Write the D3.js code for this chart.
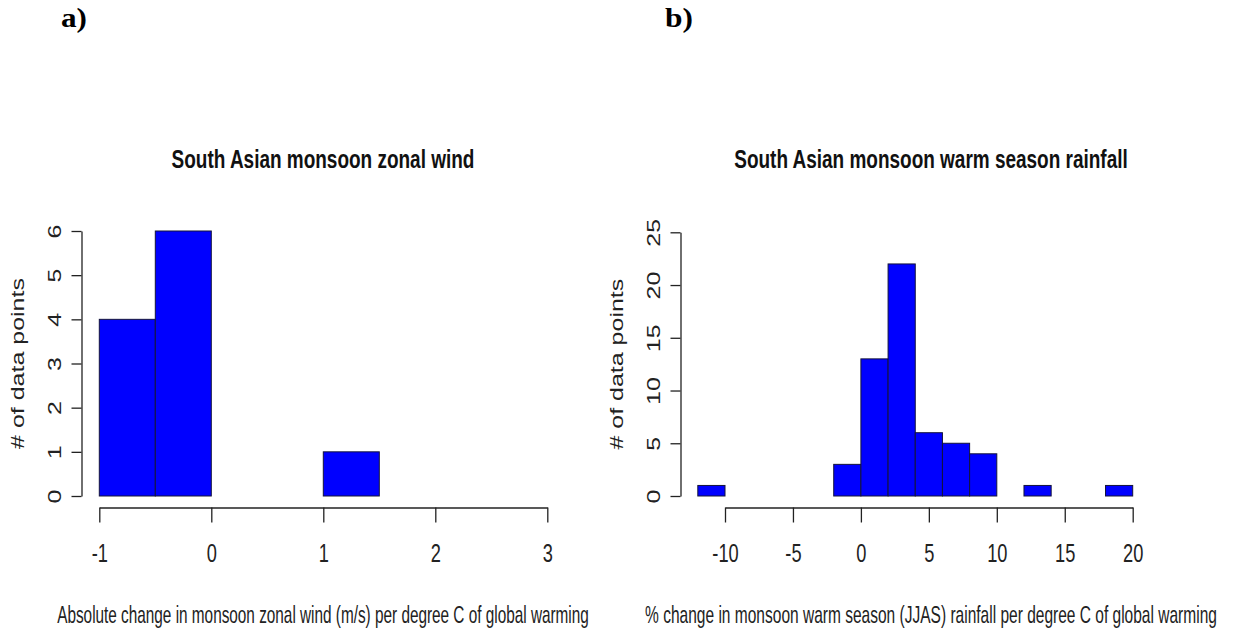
<!DOCTYPE html>
<html>
<head>
<meta charset="utf-8">
<script src="https://cdn.jsdelivr.net/npm/d3@7/dist/d3.min.js"></script>
<style>
  body { margin: 0; background: #fff; }
  svg { display: block; }
</style>
</head>
<body>
<svg></svg>
<script>

// a) zonal wind histogram
const windBreaks = [-1, -0.5, 0, 0.5, 1, 1.5];
const windCounts = [4, 6, 0, 0, 1];
const windTicksX = [-1, 0, 1, 2, 3];
const windTicksY = [0, 1, 2, 3, 4, 5, 6];

// b) warm season rainfall histogram
const rainBreaks = [-12, -10, -8, -6, -4, -2, 0, 2, 4, 6, 8, 10, 12, 14, 16, 18, 20];
const rainCounts = [1, 0, 0, 0, 0, 3, 13, 22, 6, 5, 4, 0, 1, 0, 0, 1];
const rainTicksX = [-10, -5, 0, 5, 10, 15, 20];
const rainTicksY = [0, 5, 10, 15, 20, 25];

const panelTags = ['a)', 'b)'];
const titles = ['South Asian monsoon zonal wind', 'South Asian monsoon warm season rainfall'];
const xLabels = ['Absolute change in monsoon zonal wind (m/s) per degree C of global warming',
                 '% change in monsoon warm season (JJAS) rainfall per degree C of global warming'];
const yLabel = '# of data points';

const W = 1233, H = 632;
const SQ = 0.73;   // text in the picture is squeezed sideways
const SANS = '"Liberation Sans", Arial, sans-serif';

const svg = d3.select('svg')
    .attr('width', W)
    .attr('height', H);

svg.append('rect').attr('width', W).attr('height', H).attr('fill', '#fff');

// squeeze a text so that it spans exactly w pixels
function fitWidth(sel, x, y, w) {
  const natural = sel.node().getComputedTextLength();
  sel.attr('transform', 'translate(' + x + ',' + y + ') scale(' + (w / natural) + ',1)');
}

//--------------PANELS-----------------------------------------
const panels = [
  {breaks: windBreaks, counts: windCounts, ticksX: windTicksX, ticksY: windTicksY,
   xDom: [-1, 3], xRange: [99.3, 547.3], yDom: [0, 6], yRange: [496, 231],
   axisX: 81.5, axisY: 507.5, center: 323, tagX: 61, tagW: 26, labW: 532,
   title: titles[0], xlab: xLabels[0], tag: panelTags[0]},
  {breaks: rainBreaks, counts: rainCounts, ticksX: rainTicksX, ticksY: rainTicksY,
   xDom: [-10, 20], xRange: [725, 1132.7], yDom: [0, 25], yRange: [496, 232.3],
   axisX: 680.5, axisY: 507.5, center: 931, tagX: 665, tagW: 28, labW: 572,
   title: titles[1], xlab: xLabels[1], tag: panelTags[1]}
];

panels.forEach(p => {
  const x = d3.scaleLinear().domain(p.xDom).range(p.xRange);
  const y = d3.scaleLinear().domain(p.yDom).range(p.yRange);
  const g = svg.append('g');

  // bars, empty bins become flat lines on the baseline
  const bins = p.counts.map((c, i) => ({x0: p.breaks[i], x1: p.breaks[i + 1], n: c}));
  g.append('g').selectAll('rect')
    .data(bins)
    .join('rect')
      .attr('x', d => x(d.x0))
      .attr('width', d => x(d.x1) - x(d.x0))
      .attr('y', d => y(d.n))
      .attr('height', d => y(0) - y(d.n))
      .attr('fill', '#0000ff')
      .attr('stroke', '#14143a')
      .attr('stroke-width', 1);

  //--------------AXES------------------------------------------
  const xx = d3.axisBottom(x).tickValues(p.ticksX).tickSize(15).tickSizeOuter(0)
               .tickFormat(d => String(d));
  const gx = g.append('g')
      .attr('transform', 'translate(0,' + p.axisY + ')')
      .call(xx);
  gx.selectAll('text')
      .attr('y', 54.5).attr('dy', null)
      .attr('transform', 'scale(' + SQ + ',1)');

  const yy = d3.axisLeft(y).tickValues(p.ticksY).tickSize(10).tickSizeOuter(0)
               .tickFormat(d => String(d));
  const gy = g.append('g')
      .attr('transform', 'translate(' + p.axisX + ',0)')
      .call(yy);
  gy.selectAll('text')
      .attr('x', 0).attr('y', 0).attr('dy', null)
      .attr('text-anchor', 'middle')
      .attr('transform', 'translate(-20.5,0) scale(' + SQ + ',1) rotate(-90)');

  g.selectAll('.domain, .tick line').attr('stroke', '#222').attr('stroke-width', 1.3);
  g.selectAll('.tick text')
      .attr('fill', '#222')
      .style('font-family', SANS)
      .style('font-size', '25px');

  //--------------TEXT------------------------------------------
  g.append('text')
      .attr('transform', 'translate(' + p.center + ',168) scale(' + SQ + ',1)')
      .attr('text-anchor', 'middle')
      .style('font-family', SANS)
      .style('font-weight', 'bold')
      .style('font-size', '26px')
      .attr('fill', '#111')
      .text(p.title);

  const xl = g.append('text')
      .attr('text-anchor', 'middle')
      .style('font-family', SANS)
      .style('font-size', '24px')
      .attr('fill', '#222')
      .text(p.xlab);
  fitWidth(xl, p.center, 623, p.labW);

  g.append('text')
      .attr('transform', 'translate(' + (p.axisX - 58) + ',' + y((p.yDom[0] + p.yDom[1]) / 2) +
            ') scale(' + SQ + ',1) rotate(-90)')
      .attr('text-anchor', 'middle')
      .style('font-family', SANS)
      .style('font-size', '25px')
      .attr('fill', '#222')
      .text(yLabel);

  const tag = g.append('text')
      .style('font-family', '"Liberation Serif", "Times New Roman", serif')
      .style('font-weight', 'bold')
      .style('font-size', '28px')
      .attr('fill', '#000')
      .text(p.tag);
  fitWidth(tag, p.tagX, 27, p.tagW);
});

</script>
</body>
</html>
